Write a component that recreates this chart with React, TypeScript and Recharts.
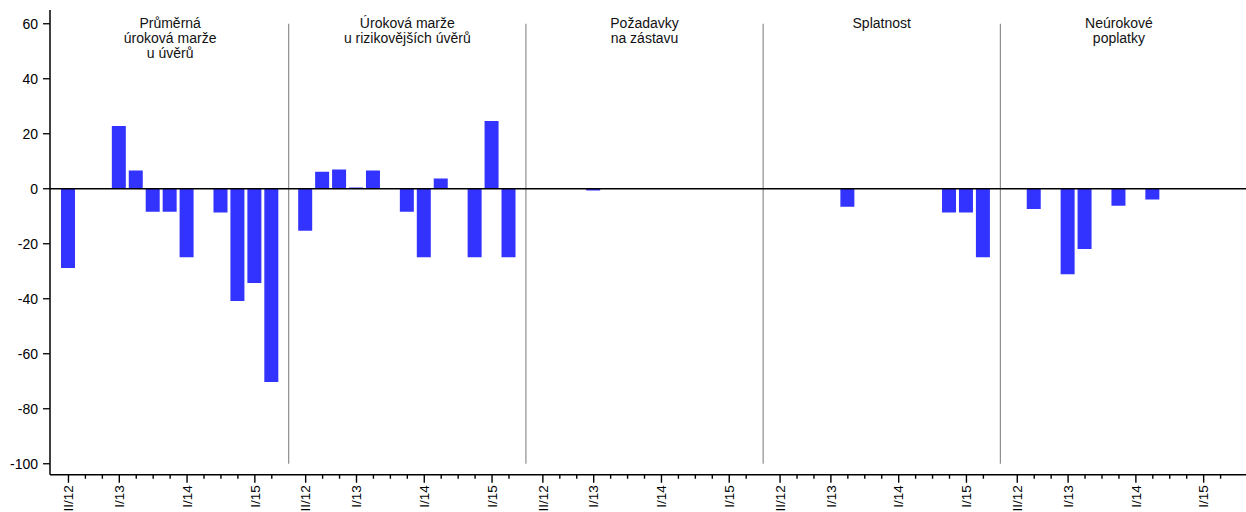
import React from 'react'
import { BarChart, Bar, XAxis, YAxis, ReferenceLine, ReferenceArea } from 'recharts'

// quarters shown in each panel (II/12 .. II/15)
const quarters = ['II/12', 'III/12', 'IV/12', 'I/13', 'II/13', 'III/13', 'IV/13', 'I/14', 'II/14', 'III/14', 'IV/14', 'I/15', 'II/15']
const labeledQuarters = ['II/12', 'I/13', 'I/14', 'I/15']

const panelTitles = [
  ['Průměrná', 'úroková marže', 'u úvěrů'],
  ['Úroková marže', 'u rizikovějších úvěrů'],
  ['Požadavky', 'na zástavu'],
  ['Splatnost'],
  ['Neúrokové', 'poplatky'],
]

const prumernaMarze = [-28.8, null, null, 22.8, 6.6, -8.4, -8.4, -24.9, null, -8.6, -40.8, -34.3, -70.3]
const rizikoveMarze = [-15.3, 6.2, 7.0, 0.5, 6.6, null, -8.4, -24.9, 3.7, null, -24.9, 24.6, -24.9]
const zastava = [null, null, null, -0.6, null, null, null, null, null, null, null, null, null]
const splatnost = [null, null, null, null, -6.5, null, null, null, null, null, -8.6, -8.6, -24.9]
const neurokove = [null, -7.4, null, -31.1, -21.9, null, -6.2, null, -3.9, null, null, null, null]

const panels = [prumernaMarze, rizikoveMarze, zastava, splatnost, neurokove]
const yTicks = [-100, -80, -60, -40, -20, 0, 20, 40, 60]

const SLOTS = quarters.length + 1 // one empty slot where panels meet
const FONT = '"Liberation Sans", Arial, sans-serif'

const data = panels.flatMap((vals, p) =>
  vals.map((v, i) => ({ x: p * SLOTS + i + 1, q: quarters[i], v })),
)
const xTicks = data.map(d => d.x)
const labelAt: Record<number, string> = {}
data.forEach(d => { labelAt[d.x] = d.q })

function QuarterTick(props: any) {
  const { x, y, payload } = props
  const q = labelAt[payload.value]
  const major = labeledQuarters.includes(q)
  const ty = y + 10.5
  return (
    <g>
      <line x1={x} x2={x} y1={y} y2={y + (major ? 8 : 4)} stroke="#000" strokeWidth={1.4} />
      {major && (
        <text
          x={x}
          y={ty}
          transform={`rotate(-90 ${x} ${ty})`}
          textAnchor="end"
          dy="0.35em"
          fontSize={13.5}
          fontFamily={FONT}
          fill="#000"
        >
          {q}
        </text>
      )}
    </g>
  )
}

function PanelTitle({ viewBox, lines }: any) {
  const cx = viewBox.x + viewBox.width / 2
  return (
    <text x={cx} y={viewBox.y + 18} textAnchor="middle" fontSize={14} fontFamily={FONT} fill="#111">
      {lines.map((l: string, i: number) => (
        <tspan key={i} x={cx} dy={i === 0 ? 0 : 15}>{l}</tspan>
      ))}
    </text>
  )
}

export default function App() {
  return (
    <div style={{ position: 'absolute', left: 0, top: 0, fontFamily: FONT }}>
      <BarChart width={1246} height={512} data={data} margin={{ top: 10, right: 0, bottom: 0, left: 0 }}>
        <XAxis
          type="number"
          dataKey="x"
          domain={[-0.09, 70.5]}
          ticks={xTicks}
          interval={0}
          tickLine={false}
          tickSize={0}
          tickMargin={0}
          height={37.25}
          axisLine={{ stroke: '#000', strokeWidth: 1.5 }}
          tick={<QuarterTick />}
          allowDataOverflow
        />
        <YAxis
          domain={[-104, 65]}
          ticks={yTicks}
          interval={0}
          width={50}
          tickSize={7}
          tickMargin={5}
          axisLine={{ stroke: '#000', strokeWidth: 1.5 }}
          tickLine={{ stroke: '#000', strokeWidth: 1.3 }}
          tick={{ fill: '#000', fontSize: 14, fontFamily: FONT }}
          allowDataOverflow
        />
        {panelTitles.map((lines, p) => (
          <ReferenceArea
            key={`t${p}`}
            x1={p * SLOTS}
            x2={(p + 1) * SLOTS}
            y1={55}
            y2={65}
            fill="none"
            stroke="none"
            label={<PanelTitle lines={lines} />}
          />
        ))}
        <Bar dataKey="v" fill="#3333ff" barSize={14} isAnimationActive={false} />
        {[1, 2, 3, 4].map(p => (
          <ReferenceLine
            key={`d${p}`}
            segment={[{ x: p * SLOTS, y: 60 }, { x: p * SLOTS, y: -100 }]}
            stroke="#777"
            strokeWidth={1}
          />
        ))}
        <ReferenceLine y={0} stroke="#000" strokeWidth={1.5} />
      </BarChart>
    </div>
  )
}
